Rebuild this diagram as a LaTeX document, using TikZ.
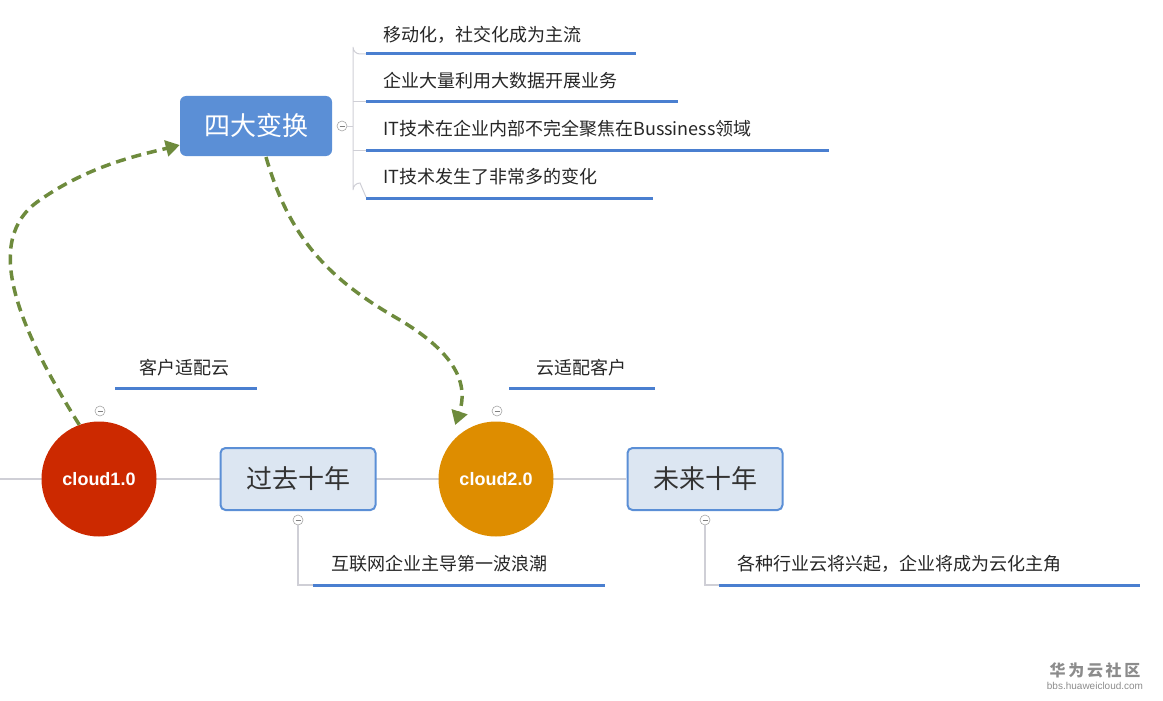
\documentclass[tikz,border=0pt]{standalone}
\usepackage{fontspec}
\setmainfont{Noto Sans CJK SC}
\newfontfamily\arialf{Liberation Sans}
\usetikzlibrary{arrows.meta}
\definecolor{redc}{HTML}{CC2900}
\definecolor{orac}{HTML}{DE8D00}
\definecolor{boxf}{HTML}{DCE6F2}
\definecolor{boxd}{HTML}{5B8FD6}
\definecolor{ul}{HTML}{4A7FD0}
\definecolor{lnk}{HTML}{CFCFD6}
\definecolor{grn}{HTML}{6E8B3D}
\begin{document}
\begin{tikzpicture}[x=1pt,y=-1pt,
  circ/.style={circle,minimum size=115pt,inner sep=0,text=white,font=\arialf\bfseries\fontsize{18}{20}\selectfont},
  box/.style={rounded corners=5pt,draw=boxd,line width=2pt,fill=boxf,minimum width=155pt,minimum height=62pt,font=\fontsize{26}{28}\selectfont,text=black!80},
  lab/.style={font=\fontsize{18}{20}\selectfont,text=black!85,anchor=west,inner sep=0},
  ull/.style={ul,line width=3pt},
  conn/.style={lnk,line width=2pt},
  mn/.style={circle,draw=black!35,fill=white,minimum size=10pt,inner sep=0,line width=0.6pt,
    path picture={\draw[black!50,line width=0.6pt] ([xshift=-2.5pt]path picture bounding box.center)--([xshift=2.5pt]path picture bounding box.center);}},
  arr/.style={grn,line width=3.5pt,dash pattern=on 10pt off 6pt,-{Triangle[length=14pt,width=16pt]}}]
\useasboundingbox (0,0) rectangle (1163,701);
\coordinate (L) at (0,479);
\coordinate (R) at (626,479);
\draw[conn] (L)--(R);
\node[circ,fill=redc] (c1) at (99,479) {cloud1.0};
\node[box] (p) at (298,479) {过去十年};
\node[circ,fill=orac] (c2) at (496,479) {cloud2.0};
\node[box] (f) at (705,479) {未来十年};
\node[rounded corners=6pt,fill=boxd,minimum width=152pt,minimum height=60pt,text=white,font=\fontsize{26}{28}\selectfont] (s) at (256,126) {四大变换};
% labels above circles
\node[lab,anchor=center] (t1) at (184,368) {客户适配云};
\draw[ull] (115,388)--(257,388);
\node[lab,anchor=center] (t2) at (581,368) {云适配客户};
\draw[ull] (509,388)--(655,388);
\node[mn] (m1) at (100,411) {};
\node[mn] (m2) at (497,411) {};
% below boxes
\node[mn] (m3) at (298,520) {};
\node[mn] (m4) at (705,520) {};
\coordinate (e3) at (313,585);
\coordinate (e4) at (719,585);
\draw[conn] (m3.south)|-(e3);
\draw[conn] (m4.south)|-(e4);
\node[lab] (b1) at (331,564) {互联网企业主导第一波浪潮};
\draw[ull] (e3)--(605,585);
\node[lab] (b2) at (737,564) {各种行业云将兴起，企业将成为云化主角};
\draw[ull] (e4)--(1140,585);
% four changes
\node[mn] (m5) at (342,126) {};
\coordinate (k) at (353,126);
\draw[conn,line width=1pt] (m5.east)--(k);
\draw[conn,line width=1pt] (366,54)--(360,54) arc(90:180:7) -- (353,190) arc(180:270:7)--(366,197);
\draw[conn,line width=1pt] (353,102)--(366,102);
\draw[conn,line width=1pt] (353,150)--(366,150);
\node[lab] (a1) at (383,35) {移动化，社交化成为主流};
\draw[ull] (366,54)--(636,54);
\node[lab] (a2) at (383,81) {企业大量利用大数据开展业务};
\draw[ull] (366,102)--(678,102);
\node[lab] (a3) at (383,129) {IT技术在企业内部不完全聚焦在Bussiness领域};
\draw[ull] (366,150)--(829,150);
\node[lab] (a4) at (383,177) {IT技术发生了非常多的变化};
\draw[ull] (366,198)--(653,198);
% arrows
\draw[arr] (c1.110) .. controls (20,330) and (-20,240) .. (40,200) .. controls (90,165) and (140,155) .. (s.west|-0,145);
\draw[arr] (266,157) .. controls (290,240) and (330,280) .. (400,320) .. controls (450,350) and (470,380) .. (c2.north west|-0,425);
% watermark
\node[text=black!45,font=\bfseries\fontsize{16}{18}\selectfont] (w1) at (1095,670) {华\,为\,云\,社\,区};
\node[text=black!45,font=\arialf\fontsize{10}{12}\selectfont] (w2) at (1095,686) {bbs.huaweicloud.com};
\end{tikzpicture}
\end{document}
